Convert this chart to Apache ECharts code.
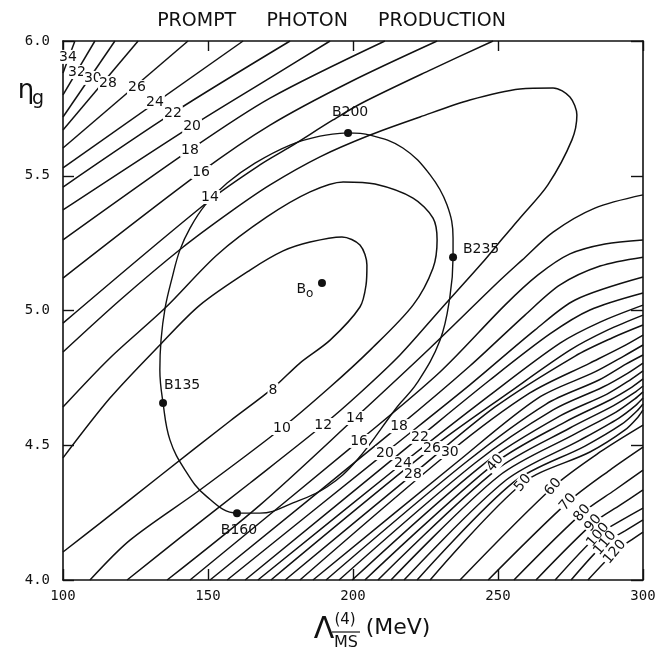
<!DOCTYPE html>
<html>
<head>
<meta charset="utf-8">
<script src="https://cdn.jsdelivr.net/npm/echarts/dist/echarts.min.js"></script>
<style>
html, body { margin: 0; padding: 0; background: #fff; }
#main { width: 663px; height: 650px; }
</style>
</head>
<body>
<div id="main"></div>
<script>
// contour lines, points are [Lambda (MeV), eta_g]

// upper-left family (values rise towards the corner)
var ul34 = [[100,5.881],[104.1,6.0]];
var ul32 = [[100,5.8],[111,6.0]];
var ul30 = [[100,5.718],[117.9,6.0]];
var ul28 = [[100,5.67],[125.9,6.0]];
var ul26 = [[100,5.603],[143.1,6.0]];
var ul24 = [[100,5.529],[162.1,6.0]];
var ul22 = [[100,5.458],[137.9,5.733],[178.3,6.0]];
var ul20 = [[100,5.373],[144.5,5.685],[171.4,5.863],[192.1,6.0]];
var ul18 = [[100,5.262],[143.8,5.596],[171.4,5.788],[211,6.0]];
var ul16 = [[100,5.12],[147.6,5.514],[171.4,5.688],[199,5.848],[229,6.0]];
var ul14 = [[100,4.953],[150.7,5.41],[167.9,5.54],[178.3,5.607],[193.1,5.707],[203.1,5.77],[226.6,5.892],[248.3,6.0]];

// valley
var loop8 = [[100,4.453],[116.2,4.675],[133.4,4.872],[147.2,5.02],[164.5,5.15],[175.9,5.221],[185.2,5.254],[196.2,5.273],[202.4,5.243],[204.8,5.169],[204.5,5.095],[202.4,5.013],[192.1,4.89],[181.7,4.805],[172.4,4.712],[157.6,4.59],[133.4,4.386],[112.8,4.211],[100,4.104]];
var loop10 = [[100,4.642],[116.2,4.824],[135.2,5.009],[153.1,5.206],[170.3,5.347],[185.2,5.44],[196.6,5.477],[207.6,5.469],[220.7,5.417],[227.6,5.343],[229,5.262],[227.6,5.158],[220.7,5.02],[205.9,4.853],[192.1,4.716],[175.5,4.564],[147.2,4.334],[123.1,4.148],[109.3,4.0]];
var loop12 = [[100,4.846],[119.7,5.039],[141,5.232],[157.6,5.365],[171.4,5.466],[188.6,5.57],[205.9,5.651],[223.1,5.718],[240.3,5.781],[257.6,5.822],[269,5.826],[274.8,5.792],[277.2,5.725],[275.5,5.633],[267.2,5.466],[257.6,5.343],[251.7,5.269],[244.5,5.176],[230,5.002],[216.2,4.835],[202.4,4.694],[189.7,4.575],[164.5,4.36],[140.3,4.156],[122.1,4.0]];

// lower-right family
var lr14 = [[135.9,4.0],[167.9,4.278],[200.7,4.601],[226.6,4.861],[249.7,5.102],[258.3,5.187],[269,5.291],[283.4,5.38],[300,5.429]];
var lr16 = [[143.8,4.0],[202.1,4.516],[230,4.772],[252.4,5.02],[263.8,5.132],[274.8,5.21],[286.9,5.247],[300,5.262]];
var lr18 = [[150.7,4.0],[215.9,4.571],[240.3,4.794],[259.3,4.983],[271.4,5.095],[285.2,5.165],[300,5.198]];
var lr20 = [[156.6,4.0],[211,4.471],[240.3,4.724],[262.8,4.928],[276.6,5.039],[300,5.124]];
var lr22 = [[162.8,4.0],[223.1,4.531],[247.2,4.742],[267.9,4.913],[281.7,5.002],[300,5.065]];
var lr24 = [[167.2,4.0],[217.2,4.434],[247.2,4.686],[271.4,4.879],[285.2,4.957],[300,5.02]];
var lr26 = [[171.7,4.0],[227.2,4.49],[254.1,4.698],[274.8,4.853],[287.9,4.928],[300,4.983]];
var lr28 = [[176.6,4.0],[220.7,4.393],[249,4.642],[276.6,4.831],[289.3,4.898],[300,4.946]];
var lr30 = [[181.7,4.0],[233.4,4.475],[261,4.694],[281.7,4.805],[292.8,4.865],[300,4.909]];
var lr32 = [[186.2,4.0],[235.5,4.434],[263.8,4.675],[283.4,4.772],[293.4,4.831],[300,4.872]];
var lr34 = [[190.7,4.0],[238.6,4.434],[266.6,4.653],[284.8,4.742],[294.1,4.801],[300,4.835]];
var lr36 = [[195.2,4.0],[242.1,4.434],[269,4.631],[286.2,4.716],[294.8,4.768],[300,4.805]];
var lr38 = [[199.7,4.0],[245.5,4.434],[271.4,4.609],[287.6,4.69],[295.5,4.742],[300,4.776]];
var lr40 = [[204.1,4.0],[249,4.434],[273.1,4.586],[288.6,4.668],[296.2,4.716],[300,4.746]];
var lr42 = [[208.6,4.0],[249.3,4.408],[274.8,4.564],[289.7,4.646],[296.9,4.694],[300,4.72]];
var lr44 = [[213.1,4.0],[250.3,4.386],[276.6,4.542],[290.7,4.623],[297.2,4.672],[300,4.698]];
var lr46 = [[217.6,4.0],[252.8,4.371],[278.3,4.519],[291.7,4.601],[297.6,4.649],[300,4.675]];
var lr48 = [[222.1,4.0],[255.5,4.364],[280,4.497],[292.8,4.579],[297.9,4.627],[300,4.653]];
var lr50 = [[226.6,4.0],[258.6,4.36],[281.7,4.475],[293.8,4.557],[298.3,4.605],[300,4.631]];
var lr60 = [[236.9,4.0],[269,4.345],[285.2,4.475],[300,4.575]];
var lr70 = [[246.6,4.0],[274.1,4.289],[288.6,4.408],[300,4.493]];
var lr80 = [[255.5,4.0],[279,4.248],[290.3,4.334],[300,4.408]];
var lr90 = [[263.1,4.0],[282.8,4.211],[292.1,4.278],[300,4.334]];
var lr100 = [[269.7,4.0],[284.5,4.167],[292.8,4.223],[300,4.267]];
var lr110 = [[275.2,4.0],[286.9,4.137],[293.8,4.182],[300,4.223]];
var lr120 = [[281,4.0],[290.3,4.104],[295.5,4.145],[300,4.178]];

// error ellipse
var ellipse = [[198.3,5.659],[205.9,5.651],[217.2,5.603],[226.6,5.503],[232.4,5.392],[234.5,5.269],[234.5,5.198],[233.4,5.05],[230,4.89],[222.1,4.731],[215.2,4.642],[201.4,4.445],[191,4.345],[179.3,4.286],[167.9,4.248],[160,4.248],[149,4.315],[142.1,4.408],[136.9,4.519],[134.5,4.657],[133.4,4.779],[133.8,4.89],[135.2,5.009],[137.6,5.12],[140.3,5.224],[143.8,5.306],[149,5.391],[156.6,5.473],[166.2,5.547],[178.3,5.614],[188.6,5.647],[198.3,5.659]];

// marked points
var pointNames = ['B135', 'B160', 'B200', 'B235', 'Bo'];
var pointX = [134.5, 160, 198.3, 234.5, 189.3];
var pointY = [4.657, 4.248, 5.659, 5.198, 5.102];

// contour labels
var ulLabelText = ['34', '32', '30', '28', '26', '24', '22', '20', '18', '16', '14'];
var ulLabelX = [101.7, 104.8, 110.3, 115.5, 125.5, 131.7, 137.9, 144.5, 143.8, 147.6, 150.7];
var ulLabelY = [5.941, 5.885, 5.863, 5.844, 5.829, 5.774, 5.733, 5.685, 5.596, 5.514, 5.421];
var lrLabelText = ['8', '10', '12', '14', '16', '18', '20', '22', '24', '26', '28', '30', '40', '50', '60', '70', '80', '90', '100', '110', '120'];
var lrLabelX = [172.4, 175.5, 189.7, 200.7, 202.1, 215.9, 211, 223.1, 217.2, 227.2, 220.7, 233.4, 249, 258.6, 269, 274.1, 279, 282.8, 284.5, 286.9, 290.3];
var lrLabelY = [4.705, 4.564, 4.575, 4.601, 4.516, 4.571, 4.471, 4.531, 4.434, 4.49, 4.393, 4.475, 4.434, 4.36, 4.345, 4.289, 4.248, 4.211, 4.167, 4.137, 4.104];

var ink = '#111';
var font = 'DejaVu Sans';

var contours = [ul34, ul32, ul30, ul28, ul26, ul24, ul22, ul20, ul18, ul16, ul14,
    loop8, loop10, loop12,
    lr14, lr16, lr18, lr20, lr22, lr24, lr26, lr28, lr30, lr32, lr34, lr36, lr38,
    lr40, lr42, lr44, lr46, lr48, lr50,
    lr60, lr70, lr80, lr90, lr100, lr110, lr120];

var series = contours.map(function (pts) {
    return {
        type: 'line',
        data: pts,
        showSymbol: false,
        smooth: 0.3,
        silent: true,
        z: 2,
        lineStyle: { color: ink, width: 1.5 }
    };
});

series.push({
    type: 'line',
    data: ellipse,
    showSymbol: false,
    smooth: 0.4,
    silent: true,
    z: 3,
    lineStyle: { color: ink, width: 1.4 }
});

// where the point names sit (pixels from the dot)
var pointOffset = { B135: [19, -18], B160: [2, 17], B200: [2, -21], B235: [28, -8], Bo: [-17, 8] };

series.push({
    type: 'scatter',
    silent: true,
    z: 6,
    symbolSize: 8,
    itemStyle: { color: ink, opacity: 1 },
    data: pointNames.map(function (n, i) {
        return {
            name: n,
            value: [pointX[i], pointY[i]],
            label: {
                show: true,
                position: 'inside',
                offset: pointOffset[n],
                formatter: n === 'Bo' ? '{b|B}{s|o}' : n,
                color: ink,
                textBorderWidth: 0,
                fontFamily: font,
                fontSize: 14,
                rich: {
                    b: { fontSize: 14, fontFamily: font, color: ink, textBorderWidth: 0, verticalAlign: 'top' },
                    s: { fontSize: 12, fontFamily: font, color: ink, textBorderWidth: 0, verticalAlign: 'top', padding: [6, 0, 0, 0] }
                }
            }
        };
    })
});

function labelItems(texts, xs, ys) {
    return texts.map(function (t, i) {
        var v = parseInt(t, 10);
        return {
            name: t,
            value: [xs[i], ys[i]],
            label: { rotate: v >= 40 && xs[i] > 240 ? 50 : 0 }
        };
    });
}

series.push({
    type: 'scatter',
    silent: true,
    z: 5,
    symbolSize: 1,
    itemStyle: { color: 'rgba(0,0,0,0)', opacity: 1 },
    data: labelItems(ulLabelText, ulLabelX, ulLabelY).concat(labelItems(lrLabelText, lrLabelX, lrLabelY)),
    label: {
        show: true,
        position: 'inside',
        formatter: '{b}',
        color: ink,
        textBorderWidth: 0,
        fontFamily: font,
        fontSize: 14,
        backgroundColor: '#fff',
        padding: [0, 1]
    }
});

var axisLine = { show: true, lineStyle: { color: ink, width: 1.6 } };
var tickStyle = { color: ink, width: 1.4 };

var chart = echarts.init(document.getElementById('main'), null, { renderer: 'canvas' });
chart.setOption({
    animation: false,
    backgroundColor: '#fff',
    title: {
        text: 'PROMPT     PHOTON     PRODUCTION',
        left: 'center',
        top: 7,
        textStyle: { color: ink, fontFamily: font, fontWeight: 'normal', fontSize: 19 }
    },
    grid: { left: 63, right: 20, top: 41, bottom: 70, containLabel: false },
    xAxis: [{
        type: 'value', min: 100, max: 300, interval: 50, position: 'bottom',
        axisLine: axisLine,
        axisTick: { inside: true, length: 11, lineStyle: tickStyle },
        axisLabel: { color: ink, fontFamily: 'DejaVu Sans Mono', fontSize: 14, margin: 9 },
        splitLine: { show: false }
    }, {
        type: 'value', min: 100, max: 300, interval: 50, position: 'top',
        axisLine: axisLine,
        axisTick: { inside: true, length: 10, lineStyle: tickStyle },
        axisLabel: { show: false },
        splitLine: { show: false }
    }],
    yAxis: [{
        type: 'value', min: 4, max: 6, interval: 0.5, position: 'left',
        axisLine: axisLine,
        axisTick: { inside: true, length: 11, lineStyle: tickStyle },
        axisLabel: {
            color: ink, fontFamily: 'DejaVu Sans Mono', fontSize: 14, margin: 13,
            formatter: function (v) { return v.toFixed(1); }
        },
        splitLine: { show: false }
    }, {
        type: 'value', min: 4, max: 6, interval: 0.5, position: 'right',
        axisLine: axisLine,
        axisTick: { inside: true, length: 12, lineStyle: tickStyle },
        axisLabel: { show: false },
        splitLine: { show: false }
    }],
    graphic: [
        { type: 'text', x: 26, y: 91, style: { text: 'η', font: '26px DejaVu Sans', fill: ink, textAlign: 'center', textVerticalAlign: 'middle' } },
        { type: 'text', x: 38, y: 99, style: { text: 'g', font: '19px DejaVu Sans', fill: ink, textAlign: 'center', textVerticalAlign: 'middle' } },
        { type: 'text', x: 324, y: 630, style: { text: 'Λ', font: '30px DejaVu Sans', fill: ink, textAlign: 'center', textVerticalAlign: 'middle' } },
        { type: 'text', x: 345, y: 620, style: { text: '(4)', font: '15px DejaVu Sans', fill: ink, textAlign: 'center', textVerticalAlign: 'middle' } },
        { type: 'line', shape: { x1: 332, y1: 632, x2: 360, y2: 632 }, style: { stroke: ink, lineWidth: 1.2 } },
        { type: 'text', x: 346, y: 643, style: { text: 'MS', font: '16px DejaVu Sans', fill: ink, textAlign: 'center', textVerticalAlign: 'middle' } },
        { type: 'text', x: 398, y: 628, style: { text: '(MeV)', font: '22px DejaVu Sans', fill: ink, textAlign: 'center', textVerticalAlign: 'middle' } }
    ],
    series: series
});
</script>
</body>
</html>
